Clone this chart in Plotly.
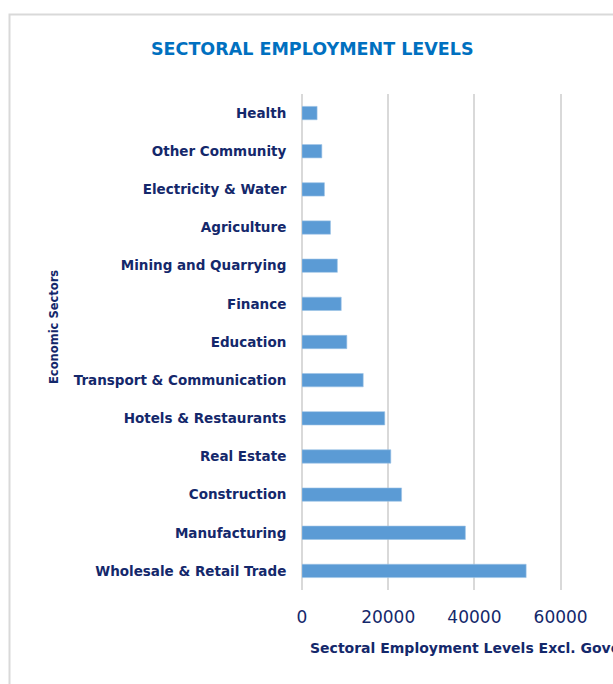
import plotly.graph_objects as go

# Sector names (top to bottom) and employment levels
sectors = [
    "Health",
    "Other Community",
    "Electricity & Water",
    "Agriculture",
    "Mining and Quarrying",
    "Finance",
    "Education",
    "Transport & Communication",
    "Hotels & Restaurants",
    "Real Estate",
    "Construction",
    "Manufacturing",
    "Wholesale & Retail Trade",
]
employment = [3500, 4600, 5200, 6600, 8200, 9100, 10400, 14200, 19200, 20600, 23100, 37900, 52000]
x_ticks = [0, 20000, 40000, 60000]

W, H = 613, 684
L, R, T, B = 302, 0, 94, 94
PW, PH = W - L - R, H - T - B

NAVY = "#14286b"
BLUE = "#0070c0"
BAR = "#5b9bd5"
GRID = "#d9d9d9"
FONT = "DejaVu Sans"


def px(x):
    return (x - L) / PW


def py(y):
    return 1 - (y - T) / PH


fig = go.Figure(
    go.Bar(
        x=employment,
        y=sectors,
        orientation="h",
        marker=dict(color=BAR, line=dict(color="#9cc3e6", width=0.6)),
        hoverinfo="x+y",
    )
)

fig.update_layout(
    width=W,
    height=H,
    margin=dict(l=L, r=R, t=T, b=B, pad=0),
    paper_bgcolor="white",
    plot_bgcolor="white",
    bargap=0.65,
    showlegend=False,
    xaxis=dict(
        range=[0, 72150],
        tickvals=x_ticks,
        ticktext=[str(v) for v in x_ticks],
        showgrid=True,
        gridcolor=GRID,
        gridwidth=1.5,
        zeroline=True,
        zerolinecolor=GRID,
        zerolinewidth=1.5,
        showline=False,
        ticks="outside",
        ticklen=12,
        tickcolor="rgba(0,0,0,0)",
        tickfont=dict(family=FONT, size=17, color=NAVY),
    ),
    yaxis=dict(
        categoryorder="array",
        categoryarray=list(reversed(sectors)),
        showgrid=False,
        zeroline=False,
        showline=False,
        ticks="outside",
        ticklen=12,
        tickcolor="rgba(0,0,0,0)",
        tickfont=dict(family=FONT, size=13.5, color=NAVY, weight="bold"),
    ),
    shapes=[
        dict(
            type="rect",
            xref="paper",
            yref="paper",
            x0=px(9.5),
            x1=px(W + 20),
            y0=py(H + 20),
            y1=py(14.5),
            line=dict(color=GRID, width=2),
            fillcolor="rgba(0,0,0,0)",
            layer="below",
        )
    ],
    annotations=[
        dict(
            text="<b>SECTORAL EMPLOYMENT LEVELS</b>",
            xref="paper",
            yref="paper",
            x=px(312.5),
            y=py(49),
            xanchor="center",
            yanchor="middle",
            showarrow=False,
            font=dict(family=FONT, size=17.5, color=BLUE),
        ),
        dict(
            text="<b>Sectoral Employment Levels Excl. Government</b>",
            xref="paper",
            yref="paper",
            x=px(308),
            y=py(648),
            xanchor="left",
            yanchor="middle",
            showarrow=False,
            font=dict(family=FONT, size=14, color=NAVY),
        ),
        dict(
            text="<b>Economic Sectors</b>",
            xref="paper",
            yref="paper",
            x=px(54),
            y=py(327),
            xanchor="center",
            yanchor="middle",
            textangle=-90,
            showarrow=False,
            font=dict(family=FONT, size=11.5, color=NAVY),
        ),
    ],
)

fig.write_html("out.html")
